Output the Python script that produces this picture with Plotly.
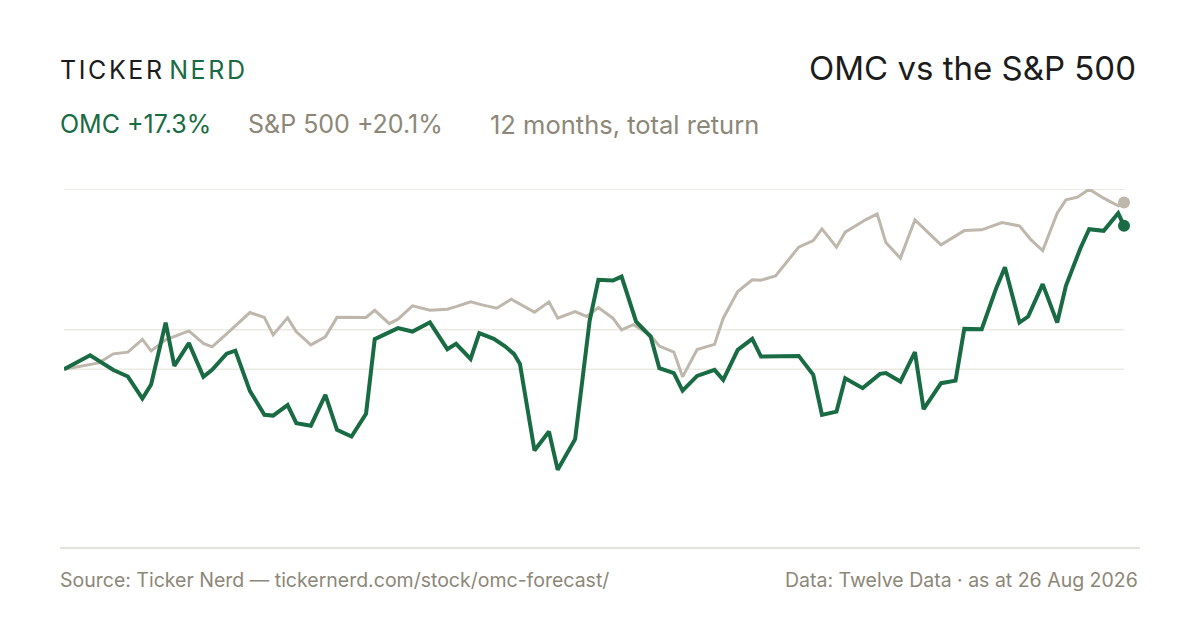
import pandas as pd
import plotly.graph_objects as go

# ---------------- data ----------------
START = pd.Timestamp("2025-08-26")

# OMC total return, % vs start; x as days since start
omc_days = [0, 9, 17, 22, 27, 30, 35, 38, 43, 48, 51, 56, 59, 64, 69, 72, 77, 80,
            85, 90, 94, 99, 104, 107, 115, 120, 126, 132, 135, 140, 143, 148, 152,
            155, 157, 162, 167, 170, 176, 181, 184, 189, 192, 197, 202, 205, 210,
            213, 218, 224, 227, 232, 237, 240, 253, 258, 261, 266, 269, 275, 281,
            283, 288, 293, 296, 302, 307, 310, 316, 321, 324, 329, 332, 337, 342,
            345, 350, 353, 358, 363, 365]
omc_ret = [0.0, 1.67, -0.1, -0.89, -3.55, -1.86, 5.62, 0.40, 3.14, -0.93, -0.08,
           1.87, 2.23, -2.62, -5.51, -5.60, -4.34, -6.52, -6.82, -3.10, -7.32,
           -8.13, -5.39, 3.63, 4.95, 4.54, 5.65, 2.41, 3.05, 1.24, 4.34, 3.66,
           2.73, 1.81, 0.64, -9.82, -7.53, -12.15, -8.45, 5.83, 10.78, 10.69,
           11.17, 5.74, 3.93, 0.12, -0.48, -2.58, -0.81, -0.08, -1.29, 2.33, 3.66,
           1.52, 1.60, -0.69, -5.51, -5.12, -1.09, -2.29, -0.57, -0.48, -1.50,
           2.05, -4.83, -1.69, -1.38, 4.86, 4.83, 9.77, 12.31, 5.62, 6.35, 10.26,
           5.62, 10.05, 14.60, 16.89, 16.69, 18.82, 17.3]

# S&P 500 total return, %
spx_days = [0, 8, 12, 17, 22, 27, 30, 35, 38, 43, 48, 51, 56, 64, 69, 72, 77, 80,
            85, 90, 94, 99, 104, 107, 112, 115, 120, 126, 132, 135, 140, 144, 149,
            154, 162, 167, 170, 176, 180, 184, 189, 192, 196, 202, 205, 210, 213,
            218, 224, 227, 232, 237, 240, 245, 249, 253, 258, 261, 266, 269, 276,
            280, 283, 288, 293, 302, 310, 316, 323, 329, 333, 337, 342, 345, 349,
            353, 358, 363, 365]
spx_ret = [0.0, 0.52, 0.76, 1.85, 2.05, 3.60, 2.21, 3.54, 3.96, 4.62, 3.10, 2.69,
           4.26, 6.83, 6.25, 4.14, 6.19, 4.50, 2.93, 3.90, 6.25, 6.29, 6.24, 7.10,
           5.49, 6.03, 7.64, 7.10, 7.24, 7.55, 8.12, 7.76, 7.36, 8.45, 6.88, 8.12,
           6.15, 6.95, 6.36, 7.43, 6.15, 4.74, 5.38, 4.08, 2.78, 2.06, -0.93, 2.37,
           2.99, 6.15, 9.36, 10.78, 10.74, 11.26, 12.98, 14.72, 15.52, 16.93, 14.72,
           16.53, 18.02, 18.74, 15.28, 13.39, 18.02, 15.00, 16.72, 16.81, 17.69,
           17.29, 15.60, 14.31, 18.82, 20.43, 20.76, 21.72, 20.63, 19.71, 20.1]

grid_vals = [21.72, 4.75, 0]
y_range = [-21.58, 21.74]

GREEN = "#196B43"
SAND = "#BEB7AC"
MUTED = "#8C8778"
INK = "#1C1C1C"
FONT = "Inter"


def to_dates(days):
    return START + pd.to_timedelta(days, unit="D")


omc_x = to_dates(omc_days)
spx_x = to_dates(spx_days)

fig = go.Figure()

fig.add_trace(go.Scatter(x=spx_x, y=spx_ret, mode="lines",
                         line=dict(color=SAND, width=3), cliponaxis=False,
                         hoverinfo="skip"))
fig.add_trace(go.Scatter(x=omc_x, y=omc_ret, mode="lines",
                         line=dict(color=GREEN, width=4), cliponaxis=False,
                         hoverinfo="skip"))
# end dots
fig.add_trace(go.Scatter(x=[spx_x[-1]], y=[spx_ret[-1]], mode="markers",
                         marker=dict(color=SAND, size=12), cliponaxis=False))
fig.add_trace(go.Scatter(x=[omc_x[-1]], y=[omc_ret[-1]], mode="markers",
                         marker=dict(color=GREEN, size=12), cliponaxis=False))

for g in grid_vals:
    fig.add_shape(type="line", xref="paper", yref="y", x0=0, x1=1, y0=g, y1=g,
                  line=dict(color="#ECE9E3", width=1.5), layer="below")

# bottom rule, wider than the plot area
fig.add_shape(type="line", xref="paper", yref="paper", x0=-0.0038, x1=1.0151,
              y0=0, y1=0, line=dict(color="#DDD9D0", width=1.5), layer="below")


def ann(text, x, y, size, color, xanchor="left"):
    fig.add_annotation(text=text, x=x, y=y, xref="paper", yref="paper",
                       xanchor=xanchor, yanchor="middle", showarrow=False,
                       font=dict(family=FONT, size=size, color=color))


LEFT = -0.0057
ann("<span style='letter-spacing:2.6px'>TICKER</span>\u2009"
    f"<span style='letter-spacing:2.6px;fill:{GREEN}'>NERD</span>",
    LEFT, 1.332, 25, INK)
ann("OMC vs the S&P 500", 1.0132, 1.337, 33, INK, xanchor="right")
ann("OMC +17.3%", LEFT, 1.181, 25, GREEN)
ann("S&P 500 +20.1%", 0.1717, 1.181, 25, MUTED)
ann("12 months, total return", 0.4000, 1.181, 25.5, MUTED)
ann("Source: Ticker Nerd — tickernerd.com/stock/omc-forecast/", LEFT, -0.089, 19.5, MUTED)
ann("Data: Twelve Data · as at 26 Aug 2026", 1.0151, -0.089, 19.5, MUTED, xanchor="right")

# the page sits 8px in from the window edge, so margins are trimmed by 8
fig.update_layout(
    width=1200, height=630,
    margin=dict(l=56, r=84, t=181, b=90),
    paper_bgcolor="white", plot_bgcolor="white",
    showlegend=False,
    font=dict(family=FONT),
    xaxis=dict(range=[omc_x[0], omc_x[-1]], visible=False),
    yaxis=dict(range=y_range, visible=False),
)

fig.write_html("out.html")
